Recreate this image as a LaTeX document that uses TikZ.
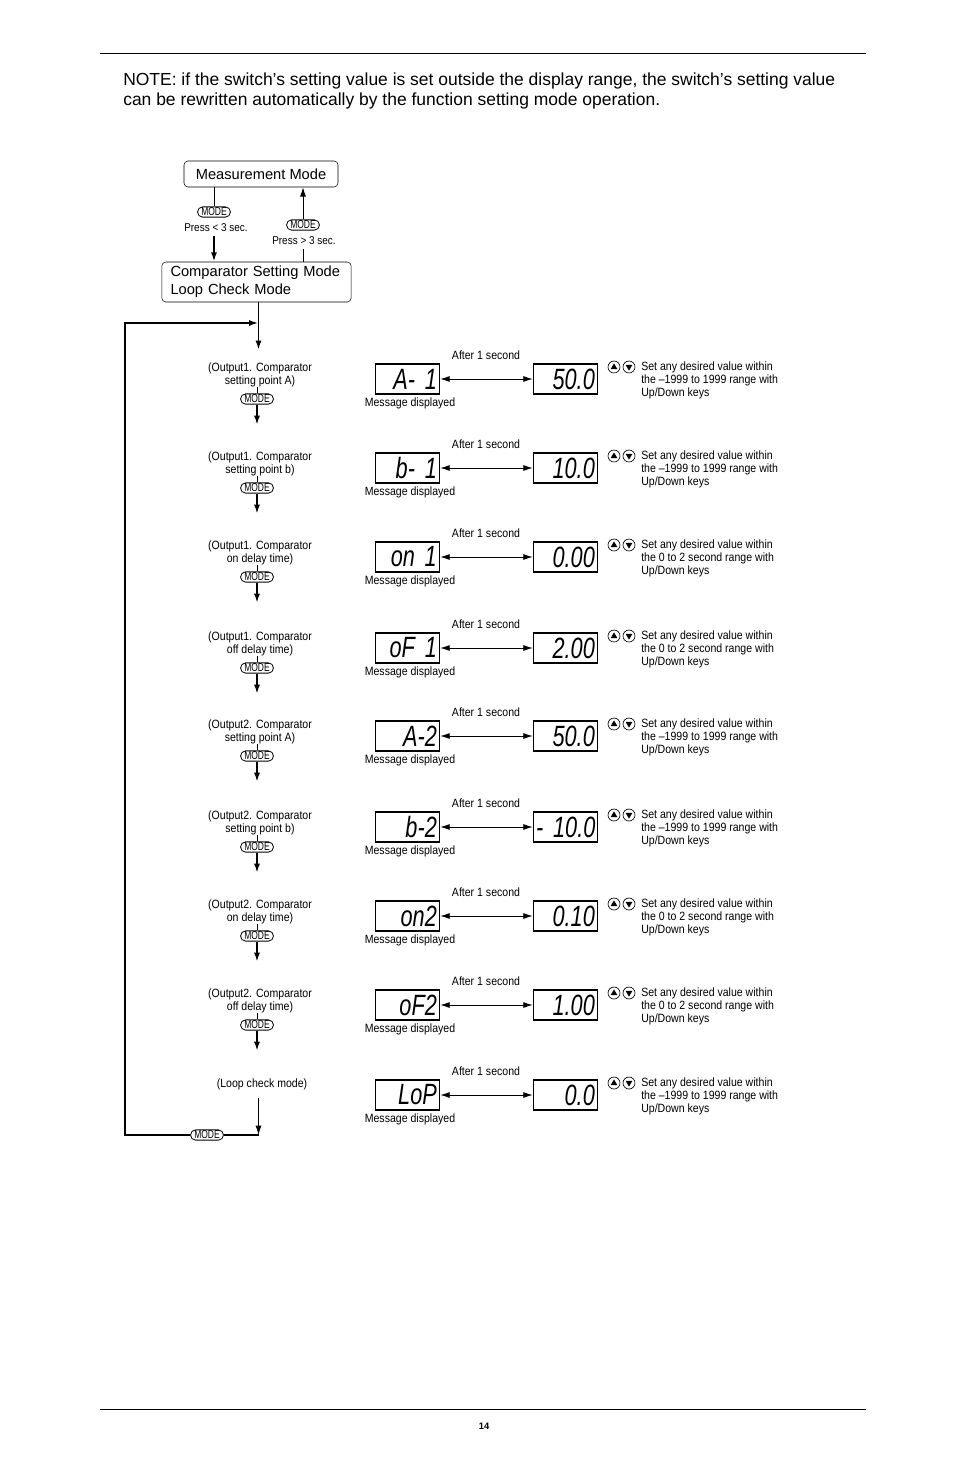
\documentclass[tikz,border=0pt]{standalone}
\usepackage{fontspec}
\setmainfont{Liberation Sans}
\newfontfamily\condfont[FakeStretch=0.88]{Liberation Sans}
\newfontfamily\keyfont[FakeStretch=0.74]{Liberation Sans}
\newfontfamily\segfont[FakeStretch=0.74]{Liberation Sans}
\usetikzlibrary{arrows.meta}

\begin{document}
\begin{tikzpicture}[x=0.75pt,y=-0.75pt,
  >={Latex[length=7pt,width=4.5pt]},
  modebox/.style={draw,rounded corners=3pt,inner sep=0pt,
                  font=\fontsize{11}{13.5}\selectfont},
  modekey/.style={draw,rounded corners=3.8pt,inner xsep=2.8pt,inner ysep=0.8pt,
                  line width=0.6pt,font=\keyfont\fontsize{8.6}{8.6}\selectfont},
  small/.style={inner sep=0pt,font=\condfont\fontsize{9}{9.75}\selectfont},
  disp/.style={draw,line width=0.9pt,text width=44pt,align=right,
               minimum height=22.5pt,inner xsep=2.2pt,inner ysep=0pt,
               font=\segfont\itshape\fontsize{22}{22}\selectfont},
  updn/.style={draw,circle,line width=0.5pt,minimum size=9pt,inner sep=0pt},
  flow/.style={line width=1.4pt}]
  \useasboundingbox (0,0) rectangle (954,1475);

  % page frame
  \draw[line width=0.6pt] (100,53) -- (866,53);
  \draw[line width=0.6pt] (100,1409) -- (866,1409);
  \node[font=\bfseries\fontsize{7}{7}\selectfont] (page) at (484,1426) {14};
  \node[anchor=base west,inner sep=0pt,font=\fontsize{13.1}{15}\selectfont] (note1) at (123,85)
    {NOTE: if the switch’s setting value is set outside the display range, the switch’s setting value};
  \node[anchor=base west,inner sep=0pt,font=\fontsize{13.1}{15}\selectfont] (note2) at (123,105)
    {can be rewritten automatically by the function setting mode operation.};

  % the two modes
  \node[modebox,minimum width=115.5pt,minimum height=19.5pt] (meas) at (261,174) {Measurement Mode};
  \node[modebox,minimum height=30pt,text width=129pt,inner xsep=6.5pt,align=left] (comp) at (256.5,282)
    {Comparator Setting Mode\\Loop Check Mode};
  \node[modekey] (keyL) at (214,212) {MODE};
  \node[small,font=\condfont\fontsize{8.5}{9}\selectfont] (pressL) at (216,228) {Press < 3 sec.};
  \node[modekey] (keyR) at (303,225) {MODE};
  \node[small,font=\condfont\fontsize{8.5}{9}\selectfont] (pressR) at (304,241) {Press > 3 sec.};
  \draw[line width=0.6pt] (keyL.north) -- (keyL.north |- meas.south);
  \draw[flow,->] (pressL.south -| keyL) ++(0,4) -- (keyL |- comp.north);
  \draw[line width=0.6pt,->] (keyR.north) -- (keyR.north |- meas.south);
  \draw[line width=0.6pt] (pressR.south -| keyR) ++(0,4) -- (keyR |- comp.north);

  % entry into the setting loop
  \coordinate (join) at (258.5,323);
  \coordinate (top) at (258.5,350);
  \draw[flow,->] (comp.south -| top) -- (top);

  % setting items in the left column
  \foreach \i/\c/\la/\lb in {1/379/Output1/setting point A),2/468/Output1/setting point b),
      3/557/Output1/on delay time),4/648/Output1/off delay time),5/736/Output2/setting point A),
      6/827/Output2/setting point b),7/916/Output2/on delay time),8/1005/Output2/off delay time)} {
    \node[small,align=center] (lab\i) at (260,\c-4) {(\la. Comparator\\\lb};
    \node[modekey] (key\i) at (257,\c+20) {MODE};
    \coordinate (end\i) at (257,\c+46);
    \draw[line width=0.5pt] (key\i.north) -- (key\i.north |- lab\i.south);
    \draw[flow,->] (key\i.south) -- (end\i);
  }
  \node[small] (lab9) at (262,1084) {(Loop check mode)};
  \node[modekey] (key9) at (207,1135) {MODE};
  \coordinate (bot) at (258.5,1135);
  \draw[line width=0.8pt,->] (lab9.south -| bot) ++(0,8) -- (bot);
  \draw[flow] (bot) -- (key9.east);
  \draw[flow,->] (key9.west) -- (125,1135) -- (125,323) -- (join);

  % displays: message, then the value after one second
  \foreach \i/\c/\msg/\val/\rng in {1/379/A- 1/50.0/the –1999 to 1999 range with,
      2/468/b- 1/10.0/the –1999 to 1999 range with,3/557/on 1/0.00/the 0 to 2 second range with,
      4/648/oF 1/2.00/the 0 to 2 second range with,5/736/A-2/50.0/the –1999 to 1999 range with,
      6/827/b-2/- 10.0/the –1999 to 1999 range with,7/916/on2/0.10/the 0 to 2 second range with,
      8/1005/oF2/1.00/the 0 to 2 second range with,9/1095/LoP/0.0/the –1999 to 1999 range with} {
    \node[disp] (msg\i) at (407.5,\c) {\mbox{\msg}};
    \node[disp] (val\i) at (565.5,\c) {\mbox{\val}};
    \draw[line width=0.6pt,<->] (msg\i.east) -- (val\i.west);
    \node[small] (after\i) at (486,\c-24) {After 1 second};
    \node[small] (shown\i) at (410,\c+24) {Message displayed};
    \node[updn] (up\i) at (614,\c-12) {};
    \node[updn] (dn\i) at (629,\c-12) {};
    \fill ([shift={(-3.4,2.2)}]up\i.center) -- ++(6.8,0) -- ++(-3.4,-5.8) -- cycle;
    \fill ([shift={(-3.4,-2.2)}]dn\i.center) -- ++(6.8,0) -- ++(-3.4,5.8) -- cycle;
    \node[small,anchor=west,align=left] (set\i) at (641,\c+1)
      {Set any desired value within\\\rng\\Up/Down keys};
  }
\end{tikzpicture}
\end{document}
